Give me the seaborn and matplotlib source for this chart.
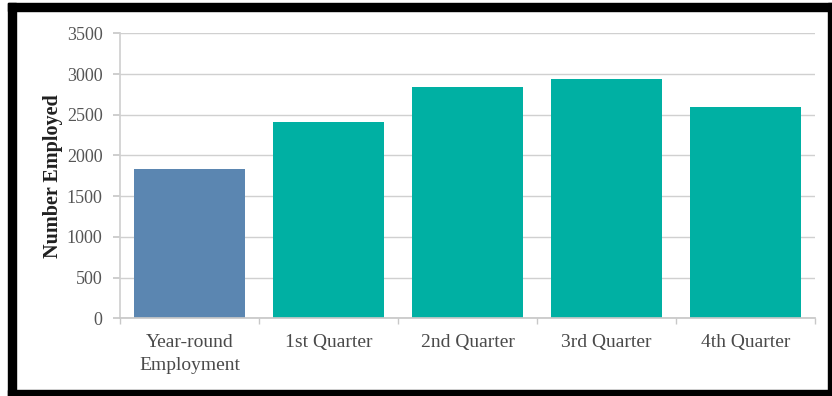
import matplotlib
matplotlib.use("Agg")
import matplotlib.pyplot as plt
import seaborn as sns
import pandas as pd
from matplotlib.patches import Rectangle

# Employment by period
categories = ["Year-round\nEmployment", "1st Quarter", "2nd Quarter", "3rd Quarter", "4th Quarter"]
employed = [1830, 2410, 2840, 2940, 2590]
bar_colors = ["#5b86b1", "#00b0a3", "#00b0a3", "#00b0a3", "#00b0a3"]
y_ticks = [0, 500, 1000, 1500, 2000, 2500, 3000, 3500]

sns.set_theme(style="white")
plt.rcParams["font.family"] = ["Liberation Serif", "DejaVu Serif"]

df = pd.DataFrame({"period": categories, "employed": employed})

W, H = 832, 396
fig = plt.figure(figsize=(W / 100, H / 100), dpi=100)
ax = fig.add_axes([120 / W, (H - 318.3) / H, 695 / W, 285 / H])

sns.barplot(data=df, x="period", y="employed", hue="period",
            palette=bar_colors, legend=False, width=0.8,
            saturation=1, ax=ax, edgecolor="none")

ax.set_ylim(0, 3500)
ax.set_xlim(-0.5, len(categories) - 0.5)
ax.set_yticks(y_ticks)
ax.set_yticklabels([str(v) for v in y_ticks])
ax.yaxis.grid(True, color="#d0d0d0", linewidth=1)
ax.set_axisbelow(True)

for side in ["top", "right"]:
    ax.spines[side].set_visible(False)
ax.spines["left"].set_color("#d0d0d0")
ax.spines["bottom"].set_color("#c8c8c8")

# category boundary ticks below the axis
ax.set_xticks([i - 0.5 for i in range(len(categories) + 1)], minor=True)
ax.tick_params(axis="x", which="minor", length=4, color="#c8c8c8", bottom=True)
ax.tick_params(axis="x", which="major", length=0, pad=11.5, labelsize=14, labelcolor="#4a4a4a")
ax.tick_params(axis="y", which="major", length=5, color="#c8c8c8", left=True,
               pad=7.5, labelsize=13, labelcolor="#555555")
for lbl in ax.get_xticklabels():
    lbl.set_linespacing(1.45)

ax.set_xlabel("")
ax.set_ylabel("Number Employed", fontsize=14.5, fontweight="bold", color="#202020", labelpad=2.5)

# black frame around the figure
frame = "#000000"
left, top = 8, 3
fig.patches.extend([
    Rectangle((left / W, 0), 8 / W, (H - top) / H, transform=fig.transFigure, color=frame, zorder=10),
    Rectangle((left / W, (H - top - 8) / H), (W - left) / W, 8 / H, transform=fig.transFigure, color=frame, zorder=10),
    Rectangle((828 / W, 0), 4 / W, (H - top) / H, transform=fig.transFigure, color=frame, zorder=10),
    Rectangle((left / W, 0), (W - left) / W, 6 / H, transform=fig.transFigure, color=frame, zorder=10),
])

fig.savefig("out.png", dpi=100)
